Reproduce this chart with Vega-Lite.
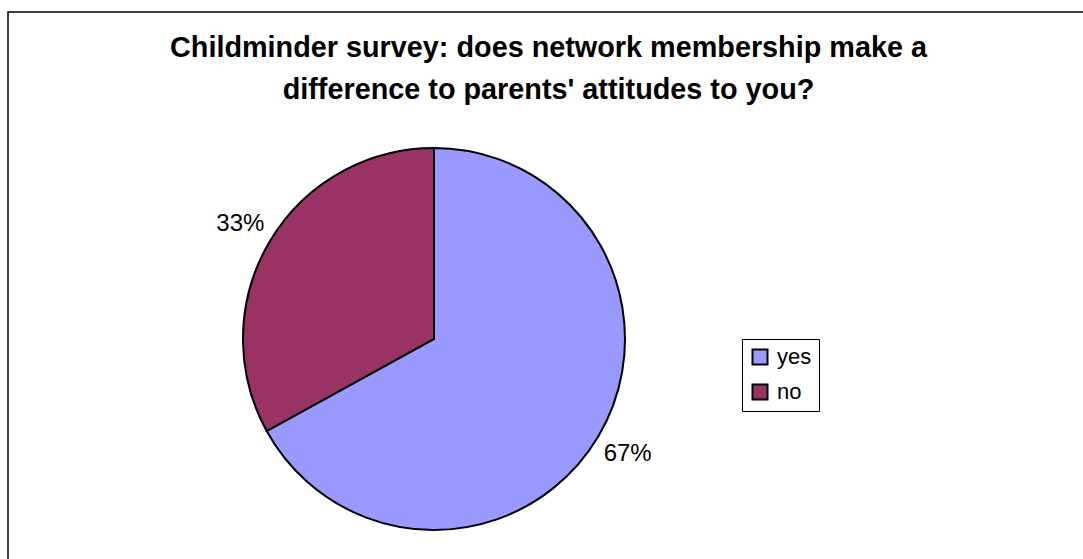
{
  "$schema": "https://vega.github.io/schema/vega-lite/v6.json",
  "width": 1083,
  "height": 559,
  "autosize": {"type": "fit", "contains": "padding"},
  "padding": {"left": 8, "top": 12, "right": -2, "bottom": -2},
  "background": "white",
  "view": {"stroke": "#000", "strokeWidth": 1.5, "fill": "white"},
  "config": {"view": {"stroke": "#000", "strokeWidth": 1.5}, "font": "Liberation Sans"},
  "title": {
    "text": ["Childminder survey: does network membership make a", "difference to parents' attitudes to you?"],
    "fontSize": 28.8,
    "fontWeight": "bold",
    "font": "Liberation Sans",
    "lineHeight": 42,
    "anchor": "middle",
    "offset": -93,
    "color": "#000",
    "dx": 2
  },
  "data": {
    "values": [
      {"answer": "yes", "value": 67, "label": "67%", "order": 1},
      {"answer": "no", "value": 33, "label": "33%", "order": 2}
    ]
  },
  "encoding": {
    "theta": {"field": "value", "type": "quantitative", "stack": true},
    "order": {"field": "order", "type": "quantitative"}
  },
  "layer": [
    {
      "mark": {"type": "arc", "radius": 191, "x": 426, "y": 327, "stroke": "#000", "strokeWidth": 2},
      "encoding": {
        "color": {
          "field": "answer",
          "type": "nominal",
          "scale": {"domain": ["yes", "no"], "range": ["#9999FF", "#993366"]},
          "legend": {
            "orient": "none",
            "legendX": 734,
            "legendY": 327,
            "title": null,
            "strokeColor": "#000",
            "fillColor": "white",
            "padding": 7,
            "symbolType": "square",
            "symbolSize": 225,
            "symbolStrokeColor": "#000",
            "symbolStrokeWidth": 2,
            "labelFontSize": 22,
            "labelFont": "Liberation Sans",
            "labelColor": "#000",
            "rowPadding": 11,
            "labelOffset": 6
          }
        }
      }
    },
    {
      "mark": {"type": "text", "radius": 225, "x": 426, "y": 327, "fontSize": 24, "font": "Liberation Sans", "fill": "#000", "align": "center", "baseline": "middle"},
      "encoding": {
        "text": {"field": "label", "type": "nominal"},
        "detail": {"field": "answer", "type": "nominal"}
      }
    }
  ]
}
